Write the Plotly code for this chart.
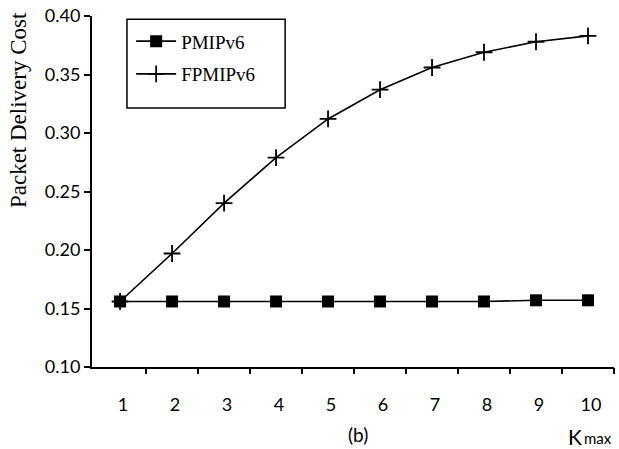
import plotly.graph_objects as go

k_values = [1, 2, 3, 4, 5, 6, 7, 8, 9, 10]
pmipv6 = [0.156, 0.156, 0.156, 0.156, 0.156, 0.156, 0.156, 0.156, 0.157, 0.157]
fpmipv6 = [0.156, 0.197, 0.240, 0.279, 0.312, 0.337, 0.356, 0.369, 0.378, 0.383]
y_ticks = [0.10, 0.15, 0.20, 0.25, 0.30, 0.35, 0.40]
x_tick_marks = [1.5, 2.5, 3.5, 4.5, 5.5, 6.5, 7.5, 8.5, 9.5, 10.5]

fig = go.Figure()
fig.add_trace(go.Scatter(
    x=k_values, y=pmipv6, name="PMIPv6", mode="lines+markers",
    line=dict(color="black", width=1.6),
    marker=dict(symbol="square", size=12, color="black"),
    legendgroup="a",
))
fig.add_trace(go.Scatter(
    x=k_values, y=fpmipv6, name="FPMIPv6", mode="lines+markers",
    line=dict(color="black", width=1.6),
    marker=dict(symbol="cross-thin", size=12, color="black",
                line=dict(color="black", width=1.8)),
    legendgroup="b",
))
# invisible trace for tick marks between categories
fig.add_trace(go.Scatter(x=[None], y=[None], xaxis="x2", showlegend=False))

xr = [0.46, 10.5]
fig.update_layout(
    width=619, height=449,
    margin=dict(l=92, r=5, t=16, b=82),
    paper_bgcolor="white", plot_bgcolor="white",
    showlegend=True,
    legend=dict(x=0.075, y=0.982, xanchor="left", yanchor="top",
                bgcolor="rgba(0,0,0,0)", borderwidth=0,
                font=dict(family="Liberation Serif", size=19, color="black"),
                tracegroupgap=5, itemwidth=40),
    xaxis=dict(range=xr, tickvals=k_values, ticktext=[str(k) for k in k_values],
               showgrid=False, zeroline=False, showline=True, linecolor="black",
               linewidth=2, ticks="", ticklabelstandoff=20, ticklabelshift=3,
               tickfont=dict(family="Lato", size=18, color="black")),
    xaxis2=dict(range=xr, overlaying="x", tickvals=x_tick_marks, showticklabels=False,
                ticks="outside", ticklen=6, tickwidth=2, tickcolor="black",
                showgrid=False, zeroline=False, showline=False, anchor="y", side="bottom"),
    yaxis=dict(range=[0.10, 0.40], tickvals=y_ticks,
               ticktext=[f"{v:.2f}" for v in y_ticks],
               showgrid=False, zeroline=False, showline=True, linecolor="black",
               linewidth=2, ticks="outside", ticklen=6, tickwidth=2, tickcolor="black",
               tickfont=dict(family="Lato", size=18, color="black")),
    shapes=[dict(type="rect", xref="paper", yref="paper",
                 x0=0.067, x1=0.370, y0=0.738, y1=0.991,
                 line=dict(color="black", width=1.5))],
    annotations=[
        dict(text="Packet Delivery Cost", xref="paper", yref="paper", x=0, y=0.732,
             xanchor="center", yanchor="middle", xshift=-74, textangle=-90,
             showarrow=False, font=dict(family="Liberation Serif", size=23, color="black")),
        dict(text="(b)", xref="paper", yref="paper", x=0.5096, y=-0.1937,
             xanchor="center", yanchor="middle", showarrow=False,
             font=dict(family="Lato", size=19, color="black")),
        dict(text="K", xref="paper", yref="paper", x=0.925, y=-0.199,
             xanchor="center", yanchor="middle", showarrow=False,
             font=dict(family="Lato", size=21, color="black")),
        dict(text="max", xref="paper", yref="paper", x=0.969, y=-0.2336,
             xanchor="center", yanchor="bottom", showarrow=False,
             font=dict(family="Lato", size=15, color="black")),
    ],
)
fig.write_html("out.html", config={"displayModeBar": False},
               post_script="document.body.style.margin='0';document.body.style.overflow='hidden';")
